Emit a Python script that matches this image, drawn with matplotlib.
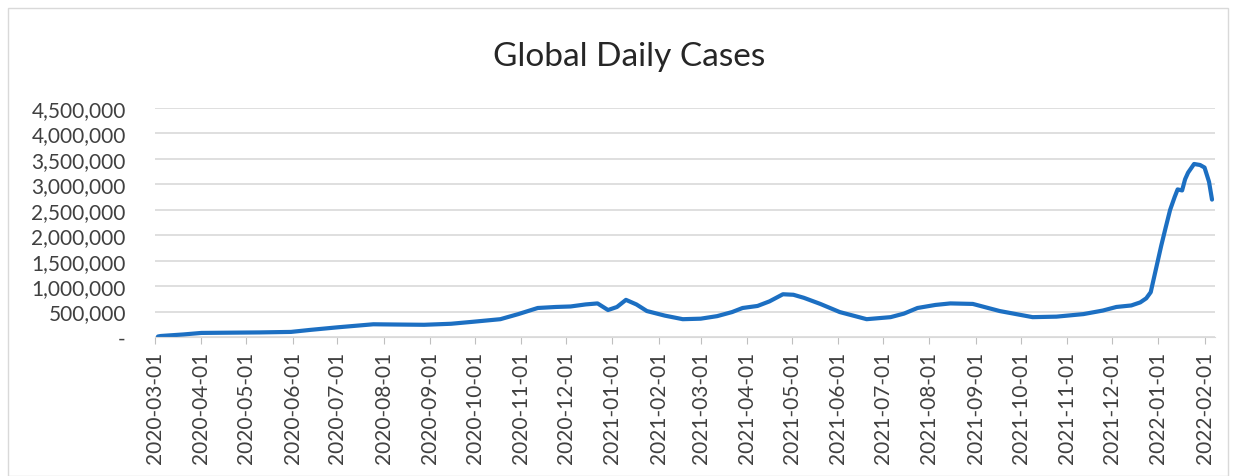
#!/usr/bin/env python3
# coding=utf-8

import pandas as pd
import matplotlib
matplotlib.use('Agg')
import matplotlib.pyplot as plt
import matplotlib.dates as mdates
from matplotlib.ticker import FuncFormatter, MultipleLocator
from matplotlib.patches import Rectangle


# values (approximate)
dates = ['2020-03-03', '2020-03-05', '2020-03-20', '2020-04-01', '2020-04-20', '2020-05-10',
         '2020-05-31', '2020-06-13', '2020-07-01', '2020-07-25', '2020-08-10', '2020-08-28',
         '2020-09-15', '2020-09-30', '2020-10-18', '2020-10-30', '2020-11-12', '2020-11-24',
         '2020-12-04', '2020-12-14', '2020-12-22', '2020-12-29', '2021-01-04', '2021-01-10',
         '2021-01-17', '2021-01-24', '2021-02-05', '2021-02-17', '2021-03-01', '2021-03-12',
         '2021-03-22', '2021-03-29', '2021-04-08', '2021-04-16', '2021-04-25', '2021-05-02',
         '2021-05-09', '2021-05-20', '2021-06-02', '2021-06-20', '2021-07-06', '2021-07-15',
         '2021-07-24', '2021-08-05', '2021-08-15', '2021-08-30', '2021-09-17', '2021-10-09',
         '2021-10-25', '2021-11-12', '2021-11-25', '2021-12-04', '2021-12-14', '2021-12-20',
         '2021-12-24', '2021-12-27', '2021-12-30', '2022-01-03', '2022-01-06', '2022-01-09',
         '2022-01-12', '2022-01-14', '2022-01-17', '2022-01-19', '2022-01-21', '2022-01-25',
         '2022-01-29', '2022-02-01', '2022-02-04', '2022-02-06']
cases = [10000, 20000, 50000, 80000, 85000, 90000,
         100000, 140000, 190000, 250000, 245000, 240000,
         260000, 300000, 350000, 450000, 570000, 590000,
         600000, 640000, 660000, 530000, 590000, 730000,
         640000, 510000, 420000, 350000, 360000, 410000,
         490000, 570000, 610000, 700000, 840000, 830000,
         770000, 650000, 490000, 350000, 390000, 460000,
         570000, 630000, 660000, 650000, 510000, 390000,
         400000, 450000, 520000, 590000, 620000, 680000,
         760000, 880000, 1270000, 1790000, 2150000, 2500000,
         2750000, 2900000, 2880000, 3100000, 3230000, 3400000,
         3380000, 3330000, 3050000, 2700000]

series = pd.Series(cases, index=pd.to_datetime(dates))

plt.rcParams['font.family'] = ['Lato', 'DejaVu Sans']

fig = plt.figure(figsize=(12.43, 4.77), dpi=100)
ax = fig.add_axes([155 / 1243, (477 - 338) / 477, (1215 - 155) / 1243, 229 / 477])

ax.plot(series.index, series.values, color='#1c6fc2', linewidth=3.0, solid_capstyle='round')

ax.set_ylim(0, 4500000)
ax.yaxis.set_major_locator(MultipleLocator(500000))
ax.yaxis.set_major_formatter(FuncFormatter(lambda v, p: '-' if v == 0 else f'{v:,.0f}'))
ax.set_xlim(pd.Timestamp('2020-03-01'), pd.Timestamp('2022-02-08'))
ax.xaxis.set_major_locator(mdates.MonthLocator())
ax.xaxis.set_major_formatter(mdates.DateFormatter('%Y-%m-%d'))
plt.setp(ax.get_xticklabels(), rotation=90)

ax.grid(visible=True, axis='y', color='#d9d9d9', linewidth=1.2)
ax.set_axisbelow(True)
for side in ['top', 'right', 'left']:
    ax.spines[side].set_visible(False)
ax.spines['bottom'].set_color('#d9d9d9')
ax.tick_params(axis='y', length=0, labelsize=15, labelcolor='#404040', pad=21)
ax.tick_params(axis='x', length=5, color='#bfbfbf', labelsize=15, labelcolor='#404040', pad=5)

fig.text(629 / 1243, 1 - 57 / 477, 'Global Daily Cases', ha='center', va='center',
         fontsize=24, color='#262626')

fig.patches.append(Rectangle((8 / 1243, 0), 1220 / 1243, 468 / 477, transform=fig.transFigure,
                             fill=False, edgecolor='#d9d9d9', linewidth=1))

fig.savefig('out.png', dpi=100)
